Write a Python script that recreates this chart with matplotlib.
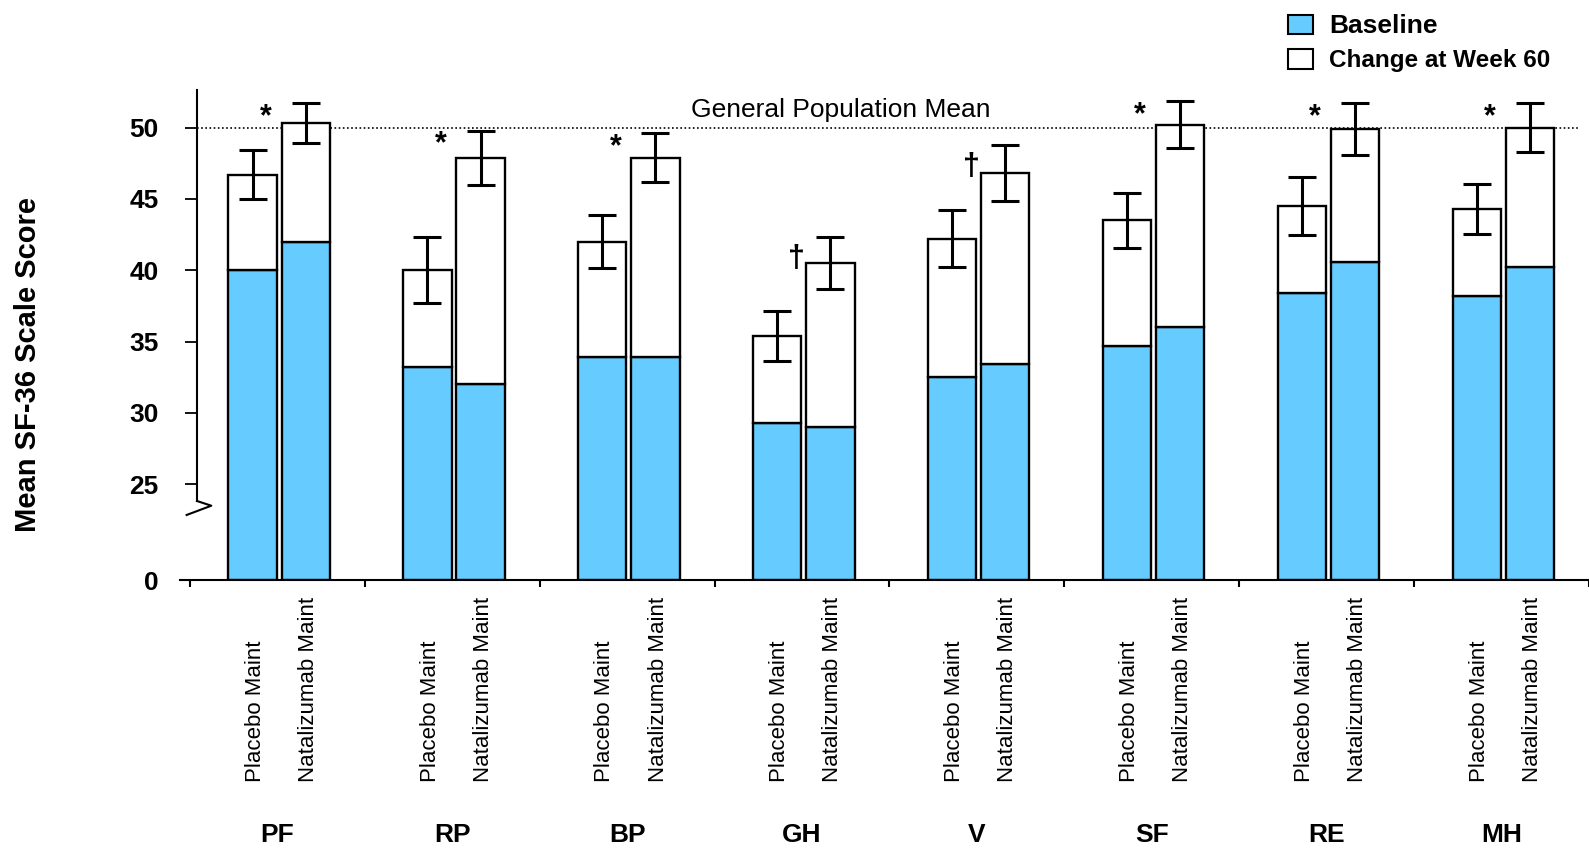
import matplotlib
matplotlib.use('Agg')
import matplotlib.pyplot as plt
import matplotlib.transforms as mtransforms
from matplotlib.patches import Patch
import numpy as np

plt.rcParams['font.family'] = ['Liberation Sans', 'DejaVu Sans']

scales = ['PF', 'RP', 'BP', 'GH', 'V', 'SF', 'RE', 'MH']
arms = ['Placebo Maint', 'Natalizumab Maint']

placebo_base = [40.0, 33.2, 33.9, 29.3, 32.5, 34.7, 38.4, 38.2]
placebo_change = [6.7, 6.8, 8.1, 6.1, 9.7, 8.8, 6.1, 6.1]
placebo_err = [1.7, 2.3, 1.85, 1.75, 2.0, 1.95, 2.05, 1.75]

natal_base = [42.0, 32.0, 33.9, 29.0, 33.4, 36.0, 40.6, 40.2]
natal_change = [8.3, 15.9, 14.0, 11.5, 13.4, 14.2, 9.3, 9.8]
natal_err = [1.4, 1.9, 1.7, 1.8, 1.95, 1.65, 1.8, 1.7]

sig_marks = ['*', '*', '*', '\u2020', '\u2020', '*', '*', '*']
y_ticks = [25, 30, 35, 40, 45, 50]
pop_mean = 50

W, H = 1589, 848
fig = plt.figure(figsize=(W / 100, H / 100), dpi=100)
ax = fig.add_axes([180 / W, 1 - 580 / H, 1409 / W, 490 / H])

FLOOR = 18.28   # broken axis: "0" sits here
BREAK = 23.82   # where the left spine stops
YTOP = 52.64
SPINE_X = -0.46
XMAX = 7.449
blue = '#66CCFF'
off, bw, shift = 0.152, 0.276, 0.01
x = np.arange(len(scales))

for dx, base, chg, err in [(-off, placebo_base, placebo_change, placebo_err),
                           (off, natal_base, natal_change, natal_err)]:
    base = np.array(base)
    chg = np.array(chg)
    ax.bar(x + shift + dx, base - FLOOR, bw, bottom=FLOOR, color=blue,
           edgecolor='black', lw=1.7, zorder=2)
    ax.bar(x + shift + dx, chg, bw, bottom=base, color='white',
           edgecolor='black', lw=1.7, zorder=2)
    ax.errorbar(x + shift + dx, base + chg, yerr=err, fmt='none',
                ecolor='black', elinewidth=2.2, capsize=9.8, capthick=2.2,
                zorder=3)

# significance marks next to natalizumab error bars
for i, m in enumerate(sig_marks):
    top = natal_base[i] + natal_change[i] + natal_err[i]
    dxp, dyp = (-28.7, -9.8) if m == '*' else (-24.3, -15.8)
    ax.annotate(m, xy=(x[i] + shift + off, top), xytext=(dxp, dyp),
                textcoords='offset points', ha='center', va='center',
                fontsize=22, fontweight='bold', zorder=4)

# general population reference line
ax.hlines(pop_mean, SPINE_X, XMAX, colors='black',
          linestyles=(0, (1, 1.5)), lw=1.2, zorder=1)
ax.text(3.22, pop_mean + 0.77, 'General Population Mean', ha='center',
        va='baseline', fontsize=19)

ax.set_xlim(-0.557, XMAX)
ax.set_ylim(FLOOR, YTOP)

for s in ['top', 'right']:
    ax.spines[s].set_visible(False)
ax.spines['left'].set_position(('data', SPINE_X))
ax.spines['left'].set_bounds(BREAK, YTOP)
ax.spines['left'].set_linewidth(1.5)
ax.spines['bottom'].set_linewidth(1.5)

# axis break mark
ax.plot([SPINE_X, SPINE_X + 0.082, SPINE_X - 0.059],
        [BREAK, BREAK - 0.33, BREAK - 0.98], color='black', lw=1.5,
        clip_on=False)

ax.set_yticks([FLOOR] + y_ticks, ['0'] + [str(t) for t in y_ticks])
ax.tick_params(axis='y', length=8.6, width=1.3, pad=19, labelsize=19)
for lbl in ax.get_yticklabels():
    lbl.set_fontweight('bold')

ax.set_xticks(np.arange(-0.5, len(scales) + 0.5), [])
ax.set_xticks(x, scales, minor=True)
ax.tick_params(axis='x', which='major', length=4.8, width=1.5, direction='out')
ax.tick_params(axis='x', which='minor', length=0, pad=175, labelsize=19)
for lbl in ax.get_xticklabels(minor=True):
    lbl.set_fontweight('bold')

trans = mtransforms.blended_transform_factory(ax.transData, fig.transFigure)
for i in x:
    for dx, name in zip([-off, off], arms):
        ax.text(i + shift + dx + 0.015, 1 - 782 / H, name, rotation=90,
                ha='center', va='bottom', fontsize=16, transform=trans)

fig.text(28.5 / W, 1 - 365 / H, 'Mean SF-36 Scale Score', rotation=90,
         ha='center', va='center', fontsize=21, fontweight='bold')

handles = [Patch(facecolor=blue, edgecolor='black', lw=1.5, label='Baseline'),
           Patch(facecolor='white', edgecolor='black', lw=1.5,
                 label='Change at Week 60')]
leg = fig.legend(handles=handles, loc='upper left',
                 bbox_to_anchor=(1288 / W, 1 - 14 / H), frameon=False,
                 prop={'weight': 'bold', 'size': 17.5}, handlelength=1.03,
                 handleheight=0.87, handletextpad=0.66, labelspacing=0.45,
                 borderpad=0, borderaxespad=0)
leg.get_texts()[0].set_fontsize(19)

fig.savefig('out.png', dpi=100)
